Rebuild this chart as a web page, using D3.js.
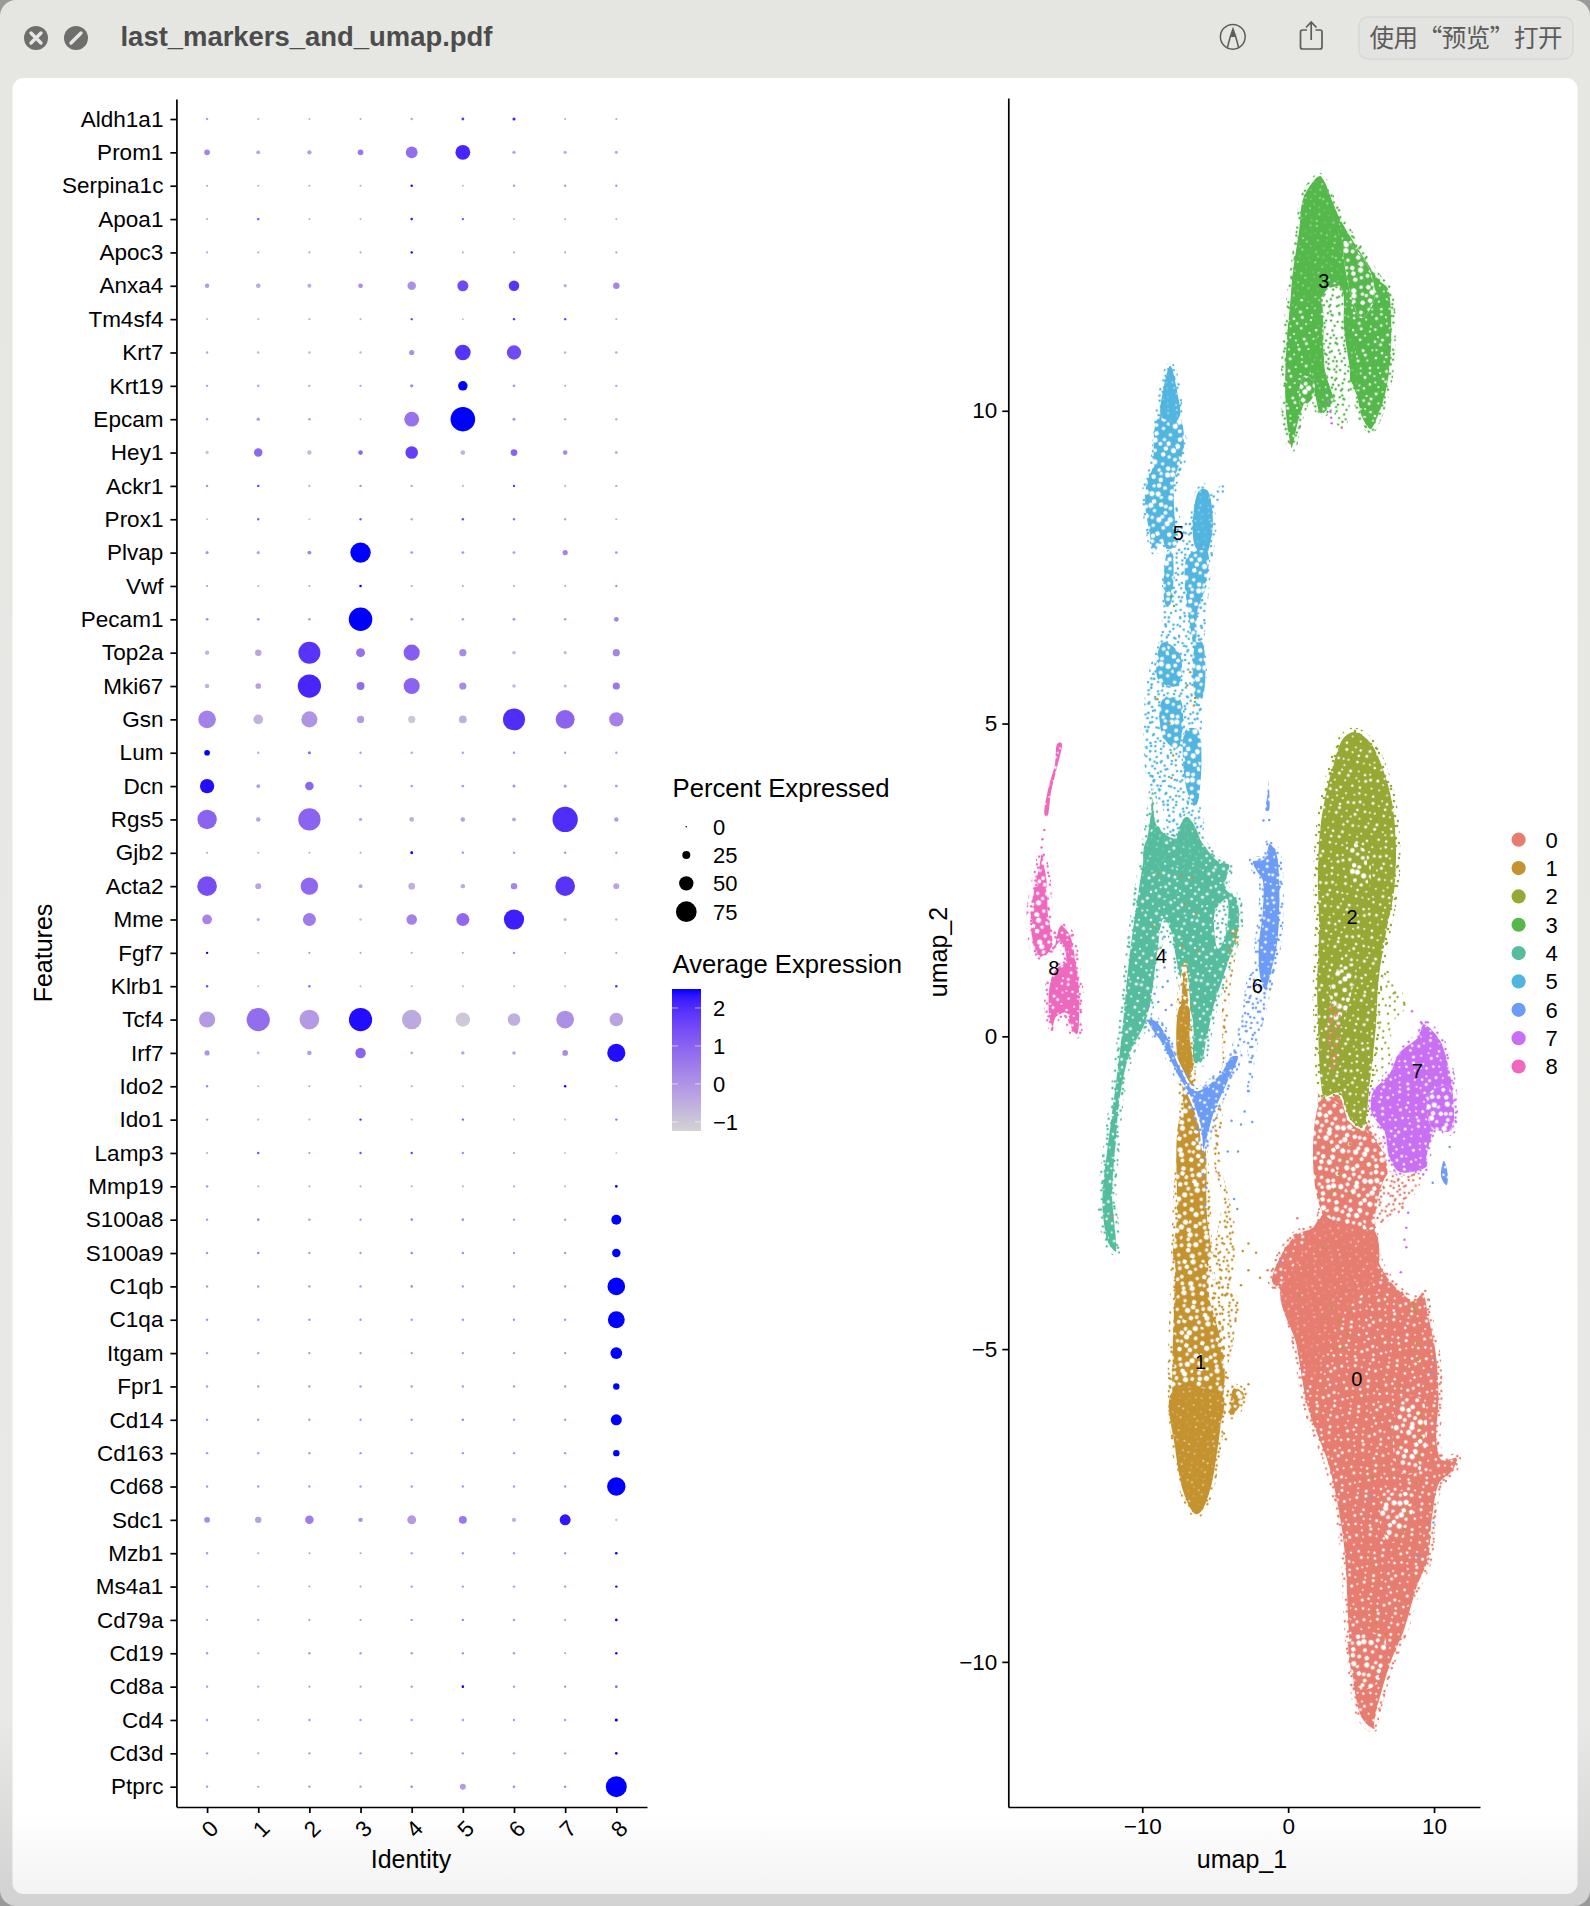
<!DOCTYPE html>
<html><head><meta charset="utf-8">
<script src="https://cdn.jsdelivr.net/npm/d3@7/dist/d3.min.js"></script>
<style>
html,body{margin:0;padding:0;background:#fff}
svg{display:block}
text{font-family:"Liberation Sans",Arial,sans-serif;fill:#000}
</style></head><body>
<svg id="c" width="1590" height="1906"></svg>
<script>
// ---------- dot plot data ----------
const identities=["0","1","2","3","4","5","6","7","8"];
const features=["Aldh1a1","Prom1","Serpina1c","Apoa1","Apoc3","Anxa4","Tm4sf4","Krt7","Krt19","Epcam","Hey1","Ackr1","Prox1","Plvap","Vwf","Pecam1","Top2a","Mki67","Gsn","Lum","Dcn","Rgs5","Gjb2","Acta2","Mme","Fgf7","Klrb1","Tcf4","Irf7","Ido2","Ido1","Lamp3","Mmp19","S100a8","S100a9","C1qb","C1qa","Itgam","Fpr1","Cd14","Cd163","Cd68","Sdc1","Mzb1","Ms4a1","Cd79a","Cd19","Cd8a","Cd4","Cd3d","Ptprc"];
const pctExpressed=[
[3,2,2,2,3,5,6,2,2],[16,9,11,16,40,52,7,6,6],[2,2,2,2,3,2,3,3,3],[2,3,2,2,4,3,2,2,2],[2,2,2,2,3,2,2,2,2],
[11,12,9,12,27,37,35,7,19],[2,2,2,2,3,1,3,3,2],[3,3,3,3,14,55,50,3,4],[3,4,3,3,7,31,5,2,3],[3,7,4,2,52,90,6,3,3],
[7,27,11,12,43,12,20,12,6],[3,3,2,3,3,2,3,2,3],[2,3,2,3,3,3,3,3,2],[6,6,9,74,5,5,5,14,5],[2,2,2,4,2,2,2,2,3],
[5,5,4,86,5,4,5,4,12],[11,19,80,29,57,22,7,6,22],[11,16,85,25,57,22,7,6,22],[63,32,57,22,22,24,80,68,50],[16,3,6,3,3,3,3,3,3],
[50,9,27,4,4,5,6,6,5],[70,11,81,6,12,11,9,93,11],[2,2,2,2,5,3,3,3,3],[71,17,62,9,20,11,19,71,17],[32,6,45,4,35,45,73,6,4],
[3,2,2,2,2,2,3,2,2],[3,2,3,2,2,2,2,2,3],[57,85,71,85,70,50,43,63,47],[14,4,11,35,4,7,7,16,65],[3,2,2,2,2,2,2,3,2],
[3,2,2,3,2,3,2,2,3],[2,3,2,3,3,3,2,2,1],[3,2,2,2,2,2,2,2,4],[3,4,3,3,4,4,3,3,33],[3,4,3,3,4,3,3,3,27],
[3,3,3,3,4,3,3,3,63],[3,3,3,3,3,3,3,3,60],[3,3,3,3,3,3,3,3,40],[3,3,3,3,3,3,3,3,19],[3,3,3,3,3,4,3,3,37],
[3,3,3,3,3,3,3,3,19],[3,3,3,3,3,3,3,3,66],[17,19,27,11,29,25,11,37,4],[3,2,2,2,3,3,3,3,4],[3,2,2,2,3,3,3,3,3],
[2,2,2,2,3,3,3,2,4],[3,2,3,3,3,3,3,2,3],[3,2,2,2,3,4,3,3,4],[3,2,3,3,3,3,3,3,6],[3,2,3,3,3,3,3,3,4],[3,2,3,3,4,17,4,4,76]];
const avgExpression=[
[-.1,-.3,-.4,-.3,-.2,1.8,2.2,-.4,-.3],[.3,-.3,-.2,.6,.8,2.1,-.3,-.4,-.4],[-.2,-.4,-.4,-.3,2.5,-.5,0,-.1,0],[-.4,1.7,-.5,-.5,2.2,1.4,-.6,-.5,-.5],[-.2,-.3,-.3,-.3,2.5,-.4,-.3,-.3,-.1],
[-.1,-.4,-.4,.2,.1,1.5,1.9,-.5,.3],[-.6,-.7,-.5,-.5,1.5,-.7,1.9,1.6,-.5],[-.2,-.5,-.5,-.6,.1,1.9,1.5,-.5,-.3],[-.2,-.4,-.3,-.3,.2,2.5,-.1,-.3,-.2],[-.2,-.1,-.2,-.4,.7,2.5,0,-.4,-.4],
[-.9,.9,-.7,.9,1.7,-.6,1,.2,-.6],[.2,1.7,-.3,.2,-.3,-.5,1.9,-.5,-.3],[-.8,1.2,-.9,1.2,-.3,1.6,.8,-.3,-.4],[0,-.2,.4,2.5,-.1,0,-.1,.4,-.1],[.1,-.4,-.2,2.5,-.2,-.2,-.2,-.2,.1],
[.1,.2,-.1,2.5,.1,-.1,.1,-.1,.4],[-.6,-.3,1.9,.7,1.1,.2,-.6,-.7,.3],[-.6,-.2,2.1,.8,1,.2,-.6,-.7,.6],[.4,-.6,0,-.1,-1,-.5,2,1,.4],[2.5,-.3,.9,-.1,-.2,-.1,.1,-.1,-.1],
[2.4,-.1,1,-.2,-.1,-.1,0,0,-.1],[1,-.2,1,-.3,-.5,-.2,-.3,2,-.1],[-.3,-.4,-.4,-.2,2.5,.1,0,.1,-.1],[1.4,-.3,.9,-.3,-.5,-.4,.3,1.9,-.3],[.3,-.4,.5,-.8,.4,.9,2.2,-.6,-.7],
[2.5,-.3,.1,-.2,-.3,-.3,.4,-.4,-.2],[1.6,-.7,1,-.4,-.6,-.5,-.5,-.6,2.1],[-.1,.8,-.1,2.4,-.4,-1,-.5,.1,-.3],[0,-.5,-.1,1,-.3,-.2,-.1,.2,2.4],[.4,-.4,-.1,-.3,-.3,-.4,-.5,2.5,-.3],
[-.1,-.3,-.4,2,-.5,1.1,-.5,-.6,.8],[-.3,1.4,.2,1.4,1.7,.2,-.3,-.9,-1],[.2,-.5,-.3,-.2,-.4,-.3,-.1,-.5,2.5],[.1,.3,.1,0,.3,.2,0,0,2.5],[.1,.3,0,0,.3,.2,0,0,2.5],
[.2,.1,.1,.1,.2,.1,.1,.1,2.5],[.1,.1,.1,.1,.1,.1,.1,.1,2.5],[.1,0,0,0,.1,0,0,0,2.5],[0,0,0,0,0,0,0,0,2.5],[0,0,0,0,.1,.2,0,0,2.5],
[0,0,0,0,0,0,0,0,2.5],[0,0,0,0,0,0,0,0,2.5],[.2,-.2,.5,.1,-.1,.6,-.6,2.3,-1],[0,-.2,-.2,-.1,-.1,0,0,0,2.5],[0,-.1,-.1,0,0,0,-.1,0,2.5],
[-.1,-.1,0,-.1,0,.4,0,-.1,2.5],[0,-.1,0,0,0,0,0,-.1,2.5],[-.1,-.1,-.1,0,0,2.5,0,0,1],[0,-.1,0,0,0,0,0,0,2.5],[0,-.1,0,0,0,0,0,0,2.5],[.1,0,.1,.1,.3,-.1,.2,.2,2.5]];
const sizeBreaks=[0,25,50,75];
const colorBreaks=[2,1,0,-1];

// ---------- UMAP data: cluster regions and individually read stray cells, in umap units ----------
const clusterIds=["0","1","2","3","4","5","6","7","8"];
const clusterColors=["#E67D70","#C4922E","#98A835","#55B84B","#55BD9E","#52B5DF","#6C9CF5","#C86FF3","#EE68BD"];
const clusterLabelPos=[[4.7,-5.47],[-6,-5.2],[4.38,1.91],[2.45,12.08],[-8.7,1.29],[-7.53,8.05],[-2.12,.81],[8.85,-.55],[-16.06,1.09]];
const c3Outer=[[2.18,13.75],[3.08,13.32],[3.98,12.92],[5.4,12.4],[6.3,12.09],[6.87,11.97],[7.13,11.11],[6.82,10.38],[6.17,9.89],[5.66,9.69],[5.01,9.89],[4.63,10.26],[4.11,10.5],[3.85,9.83],[3.59,9.8],[3.21,10.14],[2.43,9.95],[2.05,10.01],[1.66,10.32],[.89,9.95],[.24,9.39],[-.09,9.71],[-.27,10.26],[-.14,11.18],[.24,12.03],[.76,12.89],[1.02,13.38],[1.66,13.65]];
const c3Core=[[2.18,13.75],[3.08,13.32],[3.59,12.95],[3.72,12.4],[4.24,11.54],[4.7,10.69],[4.7,10.26],[4.24,10.69],[3.85,11.3],[3.59,12.03],[2.43,11.97],[2.31,11.3],[2.49,10.69],[2.43,10.07],[2.18,9.98],[1.79,10.44],[1.4,10.75],[2.05,11.3],[.89,11.79],[.24,11.54],[.24,12.03],[.76,12.89],[1.02,13.38],[1.66,13.65]];
const c3GapMid=[[2.56,11.91],[3.59,11.97],[3.85,11.3],[4.24,10.56],[3.85,9.83],[3.59,9.8],[3.21,10.14],[2.49,10.69],[2.43,11.3]];
const c3GapRight=[[3.85,12.71],[5.4,12.34],[5.91,11.79],[5.01,11.48],[4.37,11.79]];
const c3GapLeft=[[1.14,10.56],[1.79,10.44],[1.66,10.2],[.89,10.07],[.76,10.32]];
const c5Outer=[[-8.08,10.72],[-7.62,10.38],[-7.41,9.77],[-7.15,9.46],[-7.36,9.09],[-7.82,8.85],[-7.82,8.48],[-7.36,8.18],[-6.59,8.27],[-6.33,8.54],[-6.07,8.73],[-5.68,8.78],[-5.3,8.57],[-4.52,8.76],[-5.17,8.48],[-5.17,8.05],[-5.43,7.63],[-5.68,7.08],[-5.94,6.4],[-5.81,5.79],[-6.07,5.38],[-6.2,4.46],[-6.33,3.79],[-6.07,3.3],[-7.75,3.18],[-8.39,3.67],[-9.42,4.09],[-9.68,4.77],[-9.6,5.38],[-9.29,5.85],[-8.52,6.4],[-8.39,7.32],[-8.26,7.78],[-8.65,7.93],[-9.16,7.75],[-9.55,8.12],[-9.81,8.54],[-9.68,8.85],[-9.29,9.09],[-9.03,9.58],[-8.65,10.32]];
const c5Tip=[[-8.08,10.72],[-7.62,10.32],[-7.49,9.89],[-8.65,9.89],[-8.52,10.38]];
const c5Upper=[[-8.9,9.89],[-7.49,9.89],[-7.15,9.46],[-7.82,8.85],[-7.82,8.48],[-7.75,8.2],[-7.55,7.9],[-8.26,7.78],[-8.65,7.93],[-9.16,7.75],[-9.55,8.12],[-9.81,8.54],[-9.68,8.85],[-9.29,9.09]];
const c5Lobe=[[-6.07,8.73],[-5.55,8.73],[-5.17,8.3],[-5.3,7.93],[-5.68,7.69],[-6.33,7.81],[-6.53,8.24]];
const c5BandR=[[-6.84,7.69],[-5.55,7.75],[-5.81,7.08],[-6.2,6.83],[-6.33,6.1],[-6.84,6.77],[-7.1,7.38]];
const c5BandL=[[-8.26,7.75],[-8,7.75],[-8.1,6.9],[-8.4,6.9]];
const c5BandA=[[-8.6,6.3],[-7.4,6.1],[-7.6,5.6],[-8.9,5.7]];
const c5BandB=[[-8.6,5.38],[-7.4,5.38],[-7.6,4.6],[-8.6,4.8]];
const c5BandC=[[-7,4.9],[-6.2,4.9],[-6.3,3.7],[-6.9,3.9]];
const c5BandD=[[-6.3,6.3],[-5.9,6.3],[-5.9,5.4],[-6.3,5.4]];
const c4Outer=[[-9.29,3.91],[-8.91,3.36],[-7.62,3.18],[-6.97,3.51],[-6.07,3.18],[-4.78,2.81],[-4,2.75],[-4.27,2.38],[-3.49,2.2],[-3.36,1.71],[-4,1.22],[-4.52,.85],[-5.04,.48],[-5.55,-.07],[-5.94,-.43],[-6.46,-.43],[-6.59,.24],[-7.1,.67],[-7.62,1.1],[-8.13,1.71],[-8.52,1.86],[-8.91,1.34],[-9.42,.48],[-9.81,.18],[-10.84,-.31],[-11.48,-.98],[-11.74,-1.66],[-12,-2.51],[-11.79,-3.46],[-12.38,-3.31],[-12.77,-2.82],[-12.77,-2.45],[-12.38,-1.66],[-12,-.98],[-11.48,0],[-10.97,1.22],[-10.32,2.32],[-9.81,3.05],[-9.55,3.42]];
const c4GapRight=[[-5,2],[-4.2,2.2],[-4.3,1.6],[-4.8,1.4]];
const c4CoreL=[[-9.9,3],[-8.9,3.36],[-8.6,2.7],[-9.6,2.6]];
const c4CoreC=[[-7.6,3.2],[-6.97,3.51],[-6.07,3.18],[-6,2.6],[-7.4,2.6]];
const c6Main=[[-1.3,3.09],[-.79,2.96],[-.53,2.2],[-.71,1.46],[-1.04,1.1],[-1.56,.73],[-1.95,.91],[-2.08,1.46],[-1.82,1.95],[-1.82,2.5],[-2.2,2.63],[-2.46,2.81],[-1.69,2.84]];
const c6Lower=[[-2.6,1],[-1.04,1.1],[-1.56,.36],[-2.2,-.25],[-2.59,-.92],[-2.85,-1.04],[-2.72,-.4],[-3,-.1],[-3.6,-.5],[-4.2,-.8],[-3.9,-.2],[-3.2,.3]];
const c6Vee=[[-9.68,.27],[-9.16,.27],[-8.39,.06],[-7.36,-.5],[-6.33,-.86],[-4.78,-.62],[-3.88,-.31],[-3.36,-.31],[-4,-.68],[-5.04,-1.23],[-5.55,-1.66],[-5.81,-1.84],[-6.07,-1.41],[-6.84,-.92],[-7.62,-.62],[-8.65,-.13],[-9.42,.12]];
const c6Island=[[10.68,-1.99],[10.94,-2.21],[10.86,-2.38],[10.48,-2.24]];
const c6Strand=[[-1.35,4.08],[-1.28,3.85],[-1.33,3.61],[-1.53,3.61],[-1.43,3.85]];
const c1Body=[[-7.1,1.16],[-6.84,.73],[-6.76,0],[-6.59,-.56],[-6.2,-1.05],[-5.81,-1.66],[-5.55,-2.58],[-5.43,-3.49],[-5.3,-4.22],[-4.91,-4.53],[-4.27,-5.29],[-4.65,-6.25],[-4.91,-6.7],[-5.3,-7.21],[-5.94,-7.59],[-6.33,-7.64],[-7.1,-7.34],[-7.75,-6.57],[-8,-5.8],[-8,-5.17],[-7.87,-4.21],[-7.75,-3.19],[-7.49,-1.96],[-7.23,-1.23],[-7.36,-.62],[-7.41,.48]];
const c1Base=[[-7.93,-5.68],[-4.52,-5.74],[-4.65,-6.25],[-4.91,-6.7],[-5.3,-7.21],[-5.94,-7.59],[-6.33,-7.64],[-7.1,-7.34],[-7.75,-6.57]];
const c1Stem=[[-7.41,.48],[-6.84,.48],[-6.76,0],[-6.59,-.56],[-7.3,-.6]];
const c1Thin=[[-7.3,-1.3],[-5.9,-1.6],[-5.6,-2.8],[-5.5,-3.6],[-7.7,-3.6],[-7.6,-2.9]];
const c1Strand=[[-3.88,1.71],[-3.41,1.71],[-3.49,1.4],[-3.88,.91],[-4.14,.12],[-4.27,-.43],[-4.52,-1.35],[-4.65,-1.96],[-4.14,-2.51],[-3.55,-3.19],[-3.75,-3.8],[-4.27,-4.22],[-5.17,-3.68],[-4.52,-2.58],[-5.04,-2.09],[-5.04,-1.35],[-4.52,-.43],[-4.52,.48],[-4.14,1.1]];
const c1Arm=[[-5.3,-3.89],[-3.36,-4.21],[-3.49,-4.53],[-4.27,-5.29],[-4.91,-4.66]];
const c1Isle=[[-3.75,-5.61],[-2.98,-5.71],[-3.62,-6.03],[-4.01,-6.06]];
const c2Outer=[[4.5,4.88],[5.66,4.71],[6.56,4.28],[7.2,3.73],[7.46,2.93],[7.33,2.32],[6.82,1.71],[6.3,.97],[6.04,.06],[5.66,-.74],[5.14,-1.47],[4.24,-1.35],[3.47,-.92],[2.43,-.98],[2.18,-.74],[2,0],[1.92,.79],[2.05,1.71],[1.97,2.63],[2.18,3.42],[2.95,4.28],[3.72,4.77]];
const c2GapLow=[[3.08,.97],[4.5,1.16],[4.11,.48],[3.47,.12],[2.95,.48]];
const c2GapHigh=[[4.24,3.1],[5.5,2.9],[5.4,2.3],[4.4,2.5]];
const c2Tail=[[6.56,1.06],[8.12,.51],[7.07,.18],[7.2,-.31],[6.04,-.74],[6.17,.36]];
const c7Outer=[[9.26,.21],[10.42,-.04],[11.07,-.5],[11.4,-1.11],[11.27,-1.5],[10.81,-1.54],[10.42,-1.29],[9.52,-1.96],[9.52,-2.09],[7.59,-2.18],[6.82,-1.9],[6.56,-1.54],[5.66,-1.23],[5.79,-.86],[6.82,-.62],[7.59,-.25],[8.88,0]];
const c7Gap=[[9.65,-.92],[10.94,-.8],[11.2,-1.47],[9.9,-1.47]];
const c8Top=[[-15.53,4.69],[-15.86,4.28],[-16.25,3.91],[-16.51,3.51],[-16.69,3.54],[-16.43,3.97],[-15.99,4.34],[-15.81,4.68]];
const c8Curl=[[-16.9,2.93],[-16.5,2.5],[-16.4,1.95],[-16.2,1.7],[-16.1,1.46],[-16.64,1.28],[-17.28,1.31],[-17.67,1.71],[-17.67,2.08],[-17.15,2.69]];
const c8Body=[[-15.61,1.78],[-14.96,1.65],[-14.45,1.1],[-14.24,.55],[-14.45,.02],[-14.84,.09],[-15.22,.36],[-15.86,.3],[-16.12,.13],[-16.43,.3],[-16.33,.91],[-15.9,1.1],[-15.3,1.2],[-15.6,1.5],[-16,1.4]];
const c0Outer=[[2.43,-.86],[4.5,-1.1],[6.3,-1.77],[6.82,-2.2],[8.36,-2.14],[8.88,-2.27],[7.59,-2.76],[6.04,-3.06],[6.3,-3.62],[7.33,-3.98],[8.62,-4.21],[9.26,-4.08],[9.65,-4.46],[10.17,-5.04],[10.37,-5.8],[10.22,-6.44],[10.55,-6.76],[11.58,-6.73],[11.33,-6.95],[10.42,-7.14],[9.91,-7.72],[9.65,-8.36],[8.88,-8.8],[7.98,-9.51],[7.07,-10.02],[6.04,-10.85],[5.84,-11.07],[5.01,-10.91],[4.24,-9.95],[3.85,-8.36],[3.6,-7.85],[2.69,-6.83],[2.18,-6.51],[1.27,-5.93],[.37,-4.78],[-.53,-4.08],[-1.17,-3.92],[.37,-3.19],[1.92,-3],[2.43,-2.51],[2.31,-1.47]];
const c0Core=[[2.43,-2.88],[5.79,-3.06],[6.04,-3.8],[3.47,-4.53],[2.43,-5.17],[1.66,-5.42],[.37,-4.78],[-.53,-4.08],[.89,-3.49]];
const c0Top=[[2.43,-.98],[6.3,-1.77],[6.82,-2.2],[6.04,-3.06],[2.43,-2.82]];
const c0Side=[[6.82,-2.2],[8.36,-2.14],[8.88,-2.27],[7.59,-2.76],[6.04,-3.06]];
const c0HoleA=[[7.62,-5.8],[9.17,-5.8],[9,-6.95],[7.6,-6.95]];
const c0HoleB=[[6.81,-7.33],[8.62,-7.33],[7.85,-7.97],[7.07,-8.1],[6.3,-7.8]];
const c0HoleC=[[4.3,-9.6],[6.6,-9.6],[5.8,-10.4],[4.8,-10.4]];
const c0Streak=[[2.9,.5],[3.45,.5],[3.45,-.3],[3.1,-.65],[2.75,-.3]];
// region table: cluster, density, outline, frayed edge, cut to white first
const regions=[
 [3,"mid",c3Outer,1],[3,"thin",c3GapMid,0,1],[3,"loose",c3GapRight,0,1],[3,"loose",c3GapLeft,0,1],[3,"dense",c3Core,0],
 [5,"thin",c5Outer,1],[5,"loose",c5Upper,0],[5,"dense",c5Tip,0],[5,"dense",c5Lobe,0],[5,"loose",c5BandR,0],[5,"loose",c5BandL,0],[5,"loose",c5BandA,0],[5,"loose",c5BandB,0],[5,"loose",c5BandC,0],[5,"loose",c5BandD,0],
 [8,"mid",c8Top,0],[8,"loose",c8Curl,1],[8,"mid",c8Body,1],
 [0,"mid",c0Outer,1],[0,"dense",c0Core,0],[0,"loose",c0Top,0],[0,"thin",c0Side,0,1],[0,"loose",c0HoleA,0],[0,"loose",c0HoleB,0],[0,"loose",c0HoleC,0],
 [2,"sparse",c2Tail,0],[2,"mid",c2Outer,1],[2,"loose",c2GapLow,0],[2,"loose",c2GapHigh,0],[0,"thin",c0Streak,0],
 [7,"mid",c7Outer,1],[7,"loose",c7Gap,0,1],
 [4,"mid",c4Outer,1],[4,"thin",c4GapRight,0,1],[4,"dense",c4CoreL,0],[4,"dense",c4CoreC,0],
 [1,"loose",c1Body,1],[1,"dense",c1Base,0],[1,"dense",c1Stem,0],[1,"loose",c1Thin,0],[1,"thin",c1Strand,0],[1,"thin",c1Arm,0],[1,"loose",c1Isle,1],
 [6,"mid",c6Main,1],[6,"thin",c6Lower,0],[6,"mid",c6Vee,1],[6,"mid",c6Island,0],[6,"loose",c6Strand,0]
];
const strayCells=[
[7,2.9,9.98],[7,2.95,9.89],[7,2.98,9.8],[7,2.74,10.15],[0,3.67,9.73],[0,.12,9.49],
[8,-16.71,3.3],[8,-16.84,3.15],[8,-16.9,3.02],
[6,-8.47,1.59],[6,-8.39,1.34],[6,-8.47,1.1],[6,-8.26,.88],[6,-8.6,.79],[6,-9.16,.68],[6,-9.55,.48],[6,-8.9,.55],[6,-7.99,.5],[6,-8.39,.42],
[6,-5.68,-1.96],[6,-5.81,-2.2],[6,-5.6,-2.42],[6,-5.68,-2.7],[6,-3.7,-2.6],[6,-3.49,-2.76],[6,-4.14,-1.84],[6,-3.44,-1.84],[6,-3.88,-1.35],[6,-3.23,-1.41],[6,-2.46,-1.37],[6,-2.98,-1.2],[6,9.91,-2.34],[6,11.07,-1.77],[6,-1.69,3.45],[6,-1.3,3.46],
[6,10.04,-5.17],[6,9.86,-5.38],[6,5.66,-7.36],[6,9.96,-7.77],[6,8.88,-8.31],[6,-5.55,7.44],[6,-6,7.84],[6,-8,8.88],
[2,8.62,-4.34],[2,8.54,-4.27],[2,8.75,-4.4],[2,8.83,-4.91],[2,8.93,-5.17],[2,9.08,-6.06],[2,9.08,-6.25],[2,9.14,-6.41],[2,8.93,-6.7],[2,8.83,-7.14],[2,8.23,-7.53],[2,8.05,-7.66],[2,7.97,-7.88],[2,8.62,-8.61],[2,5.79,-7.05],[2,2.43,-4.5],[2,2.95,-4.34],[2,3.47,-4.56],[2,4.11,-4.75],[2,3.72,-4.97],[2,.76,-4.15],
[2,3.47,-2.2],[2,3.21,-2.45],[2,3.85,-1.96],[2,4.24,-1.72],[2,2.95,-2.51],[2,2.43,-3.37],[2,4.24,-2.51],[2,6.82,1.03],[2,7.33,.7],[2,7.97,.51],
[1,6.04,-9.38],[1,6.17,-9.51],[1,6.69,-9.56],[1,5.91,-9.19],
[1,-7.1,2.11],[1,-7.36,2.57],[1,-6.59,2.54],[1,-8.91,2.6],[1,-6.33,1.98],[1,-7.23,1.46],[1,-6.2,1.37],[1,-9.29,1.77],
[1,-6.71,5.82],[1,-6.92,5.61],[1,-6.38,5.41],[1,-8.96,5.39],[1,-8,4.13],[1,-7.88,4.49],[1,-6.46,5.29],[1,-8.13,5.01],
[3,-8,7.03],[3,-7.82,6.88],
[7,8.23,-2.82],[7,8.1,-3.06],[7,7.97,-3.25],[7,8.1,-3.37],[7,9.44,-2.06],[7,9.26,-2.21],[7,8.49,.4],[7,-.53,-3.6],[7,7.72,-3.77],
[1,-2.72,-3.31],[1,-3.11,-3.43],[1,-2.2,-3.46],[1,-2.72,-3.74],[1,-3.23,-3.98],[1,-1.93,-3.86],[0,-1.41,-3.74],[1,-2.72,-5.56],[1,-4.27,-6.44],[1,-4.4,-6.35],
[0,.63,-2.91],[0,-.53,-3.55],[0,8.62,-2.21],[0,7.59,-2.39],[0,10.42,-6.7],[0,10.94,-6.89],[0,10.81,-7.11],[0,-12.08,-2.88]
];
// fill texture: a fixed, hand-placed 60x60 grain tile
const grainTile=[[3,2],[11,6],[9,14],[19,3],[24,9],[33,1],[37,8],[46,4],[55,7],[58,15],[50,13],[41,15],[29,17],[20,14],[14,21],[4,18],[1,27],[8,29],[17,27],[25,24],[34,22],[44,23],[53,21],[57,29],[48,31],[39,29],[31,33],[22,35],[12,37],[3,35],[6,44],[15,46],[26,42],[35,40],[43,38],[52,40],[59,45],[50,48],[41,47],[32,50],[22,53],[10,54],[2,52],[16,58],[28,59],[38,56],[47,57],[56,55],[6,9],[15,10],[28,4],[42,10],[52,1],[35,13],[11,25],[28,28],[38,21],[49,26],[20,31],[6,39],[27,47],[36,45],[46,43],[55,35],[18,41],[9,49],[43,53],[53,50]];
const grainCycle={dense:[.45,.7,.5,.8],mid:[.9,1.3,1,1.5],loose:[1.7,2.3,1.9,2.6]};

// ---------- layout ----------
const svg=d3.select("#c");
const defs=svg.append("defs");
const FS={tick:22.5,title:25,legendTitle:25.7,legend:22};

// window chrome
const wg=defs.append("linearGradient").attr("id","win").attr("x1",0).attr("y1",0).attr("x2",0).attr("y2",1);
[[0,"#e5e5e2"],[.04,"#e6e6e3"],[.9,"#e9e9e7"],[.99,"#d4d4d4"],[1,"#d2d2d2"]].forEach(s=>wg.append("stop").attr("offset",s[0]).attr("stop-color",s[1]));
const pg=defs.append("linearGradient").attr("id","page").attr("x1",0).attr("y1",0).attr("x2",0).attr("y2",1);
[[0,"#fff"],[.955,"#fff"],[1,"#f3f3f3"]].forEach(s=>pg.append("stop").attr("offset",s[0]).attr("stop-color",s[1]));
svg.append("rect").attr("width",1590).attr("height",1906).attr("fill","#9a9a9a");
svg.append("rect").attr("width",1590).attr("height",1906).attr("rx",16).attr("fill","url(#win)");
svg.append("rect").attr("x",12.5).attr("y",78).attr("width",1565).attr("height",1816).attr("rx",11).attr("fill","url(#page)");
const chrome=svg.append("g");
const iconInk="#6e6e6c";
[[36,38],[76,38]].forEach(c=>chrome.append("circle").attr("cx",c[0]).attr("cy",c[1]).attr("r",12).attr("fill",iconInk));
chrome.append("path").attr("d","M31 33 L41 43 M41 33 L31 43").attr("stroke","#e6e6e3").attr("stroke-width",3.4).attr("stroke-linecap","round");
chrome.append("path").attr("d","M71 43 L81 33").attr("stroke","#e6e6e3").attr("stroke-width",3.4).attr("stroke-linecap","round");
chrome.append("text").attr("x",120.5).attr("y",46).attr("textLength",372).attr("lengthAdjust","spacingAndGlyphs").style("font-weight","700").style("font-size","28px").style("fill","#4c4c4c").text("last_markers_and_umap.pdf");
chrome.append("circle").attr("cx",1232.8).attr("cy",36.8).attr("r",12.4).attr("fill","none").attr("stroke","#5c5c5a").attr("stroke-width",1.5);
chrome.append("path").attr("d","M1227.5 47 L1230.5 36 L1233 29 L1235.5 36 L1238.5 47").attr("fill","none").attr("stroke","#5c5c5a").attr("stroke-width",1.5);
chrome.append("path").attr("d","M1233 29 L1235.3 37 L1230.7 37 Z").attr("fill","#5c5c5a");
chrome.append("path").attr("d","M1307 30 L1302.5 30 Q1300.5 30 1300.5 32 L1300.5 47 Q1300.5 49 1302.5 49 L1320 49 Q1322 49 1322 47 L1322 32 Q1322 30 1320 30 L1315.5 30 M1311.2 40 L1311.2 22.5 M1306 27.5 L1311.2 22 L1316.5 27.5").attr("fill","none").attr("stroke","#5c5c5a").attr("stroke-width",1.7);
chrome.append("rect").attr("x",1359).attr("y",17).attr("width",214).attr("height",42).attr("rx",9).attr("fill","#e3e3e1").attr("stroke","#d8d8d5").attr("stroke-width",1.5);
chrome.append("text").attr("x",1369.5).attr("y",46.5).attr("textLength",193).style("font-family","'Noto Sans CJK SC'").style("font-size","24.5px").style("fill","#5c5c5a").text("使用“预览”打开");

// ---------- dot plot ----------
const dotX=d3.scalePoint().domain(identities).range([176.4,647]).padding(.6);
const dotY=d3.scalePoint().domain(features).range([99,1806.7]).padding(.6);
const radius=d3.scaleLinear().domain([0,75]).range([.8,10.35]);
const color=d3.scaleLinear().domain([-1.24,2.5]).range(["lightgrey","blue"]).interpolate(d3.interpolateLab);

function styleAxis(g,size){
  g.selectAll("path.domain").attr("stroke","#000").attr("stroke-width",1.7);
  g.selectAll(".tick line").attr("stroke","#000").attr("stroke-width",1.7);
  g.selectAll(".tick text").style("font-size",size+"px").style("font-family","'Liberation Sans'").attr("fill","#000");
}
const gy=svg.append("g").attr("transform","translate(176.4,0)").call(d3.axisLeft(dotY).tickSize(6).tickSizeOuter(0).tickPadding(7));
styleAxis(gy,FS.tick);
const gx=svg.append("g").attr("transform","translate(0,1807)").call(d3.axisBottom(dotX).tickSize(6).tickSizeOuter(0).tickPadding(0));
styleAxis(gx,FS.tick);
gx.selectAll(".tick text").attr("text-anchor","middle").attr("dy",0).attr("y",0)
  .attr("transform","translate(2.5,22) rotate(-45)").attr("dominant-baseline","central");

const dotData=[];
features.forEach((f,i)=>identities.forEach((c,j)=>dotData.push({f,c,p:pctExpressed[i][j],e:avgExpression[i][j]})));
svg.append("g").selectAll("circle").data(dotData).join("circle")
  .attr("cx",d=>dotX(d.c)).attr("cy",d=>dotY(d.f)).attr("r",d=>radius(d.p)).attr("fill",d=>color(d.e));

svg.append("text").attr("transform","translate(52,953) rotate(-90)").attr("text-anchor","middle").style("font-size",FS.title+"px").text("Features");
svg.append("text").attr("x",411).attr("y",1868).attr("text-anchor","middle").style("font-size",FS.title+"px").text("Identity");

// size legend
const leg=svg.append("g");
leg.append("text").attr("x",672.5).attr("y",796.5).style("font-size",FS.legendTitle+"px").text("Percent Expressed");
const sizeY=d3.scalePoint().domain(sizeBreaks).range([826.7,911.7]);
leg.selectAll("circle.s").data(sizeBreaks).join("circle").attr("class","s").attr("cx",686.3).attr("cy",d=>sizeY(d)).attr("r",d=>radius(d)).attr("fill","#000");
leg.selectAll("text.s").data(sizeBreaks).join("text").attr("class","s").attr("x",713).attr("y",d=>sizeY(d)).attr("dy",".36em").style("font-size",FS.legend+"px").text(d=>d);

// colour legend
leg.append("text").attr("x",672.5).attr("y",973).style("font-size",FS.legendTitle+"px").text("Average Expression");
const barY=d3.scaleLinear().domain([-1.24,2.5]).range([1131,989]);
const bg=defs.append("linearGradient").attr("id","bar").attr("x1",0).attr("y1",1).attr("x2",0).attr("y2",0);
d3.range(0,1.0001,.05).forEach(t=>bg.append("stop").attr("offset",t).attr("stop-color",color(-1.24+t*3.74)));
leg.append("rect").attr("x",672).attr("y",989).attr("width",29).attr("height",142).attr("fill","url(#bar)");
colorBreaks.forEach(v=>{
  [[672,678],[695,701]].forEach(s=>leg.append("line").attr("x1",s[0]).attr("x2",s[1]).attr("y1",barY(v)).attr("y2",barY(v)).attr("stroke","#fff").attr("stroke-opacity",.75).attr("stroke-width",.8));
  leg.append("text").attr("x",713).attr("y",barY(v)).attr("dy",".36em").style("font-size",FS.legend+"px").text(d3.format("d")(v));
});

// ---------- UMAP ----------
const umapX=d3.scaleLinear().domain([-19.18,13.15]).range([1008.3,1480]);
const umapY=d3.scaleLinear().domain([-12.32,15]).range([1807,98]);
clusterColors.forEach((col,i)=>{
  const rot=[17,-24,41,-12,63,29,-51,8,-33][i];
  Object.keys(grainCycle).forEach((k,ki)=>{
    const p=defs.append("pattern").attr("id",k+i).attr("width",60).attr("height",60).attr("patternUnits","userSpaceOnUse").attr("patternTransform",`rotate(${rot+ki*23})`);
    p.append("rect").attr("width",60).attr("height",60).attr("fill",col);
    grainTile.forEach((d,j)=>p.append("circle").attr("cx",d[0]).attr("cy",d[1]).attr("r",grainCycle[k][j%4]).attr("fill","#fff"));
  });
  const p3=defs.append("pattern").attr("id","sparse"+i).attr("width",60).attr("height",60).attr("patternUnits","userSpaceOnUse").attr("patternTransform",`rotate(${rot-20})`);
  grainTile.forEach(d=>p3.append("circle").attr("cx",d[0]).attr("cy",d[1]).attr("r",1.2).attr("fill",col));
  const p4=defs.append("pattern").attr("id","thin"+i).attr("width",60).attr("height",60).attr("patternUnits","userSpaceOnUse").attr("patternTransform",`rotate(${rot-41})`);
  grainTile.forEach(d=>{
    p4.append("circle").attr("cx",d[0]).attr("cy",d[1]).attr("r",1.3).attr("fill",col);
    p4.append("circle").attr("cx",60-d[1]).attr("cy",d[0]).attr("r",1.3).attr("fill",col);
  });
});
const outline=d3.line().x(d=>umapX(d[0])).y(d=>umapY(d[1])).curve(d3.curveCatmullRomClosed.alpha(.5));
const umapG=svg.append("g");
regions.forEach(r=>{
  const [cl,density,pts,fray,cut]=r;
  if(cut) umapG.append("path").attr("d",outline(pts)).attr("fill","#fff");
  umapG.append("path").attr("d",outline(pts)).attr("fill",`url(#${density}${cl})`);
  if(fray){
    umapG.append("path").attr("d",outline(pts)).attr("fill","none").attr("stroke","#fff").attr("stroke-width",2);
    umapG.append("path").attr("d",outline(pts)).attr("fill","none").attr("stroke",`url(#thin${cl})`).attr("stroke-width",7);
  }
});
umapG.selectAll("circle").data(strayCells).join("circle")
  .attr("cx",d=>umapX(d[1])).attr("cy",d=>umapY(d[2])).attr("r",1.25).attr("fill",d=>clusterColors[d[0]]);
svg.append("g").selectAll("text").data(clusterIds).join("text")
  .attr("x",(d,i)=>umapX(clusterLabelPos[i][0])).attr("y",(d,i)=>umapY(clusterLabelPos[i][1])).attr("dy",".36em")
  .attr("text-anchor","middle").style("font-size","20px").text(d=>d);

const uy=svg.append("g").attr("transform","translate(1008.3,0)").call(d3.axisLeft(umapY).tickValues([-10,-5,0,5,10]).tickSize(6).tickSizeOuter(0).tickPadding(5));
styleAxis(uy,FS.tick);
const ux=svg.append("g").attr("transform","translate(0,1807)").call(d3.axisBottom(umapX).tickValues([-10,0,10]).tickSize(6).tickSizeOuter(0).tickPadding(5));
styleAxis(ux,FS.tick);
svg.append("text").attr("x",1242).attr("y",1868).attr("text-anchor","middle").style("font-size",FS.title+"px").text("umap_1");
svg.append("text").attr("transform","translate(946.5,952) rotate(-90)").attr("text-anchor","middle").style("font-size",FS.title+"px").text("umap_2");

// cluster legend
const legY=d3.scalePoint().domain(clusterIds).range([839.7,1066.5]);
const cl=svg.append("g");
cl.selectAll("circle").data(clusterIds).join("circle").attr("cx",1518.6).attr("cy",d=>legY(d)).attr("r",7.1).attr("fill",(d,i)=>clusterColors[i]);
cl.selectAll("text").data(clusterIds).join("text").attr("x",1545.5).attr("y",d=>legY(d)).attr("dy",".36em").style("font-size",FS.legend+"px").text(d=>d);
</script>
</body></html>
